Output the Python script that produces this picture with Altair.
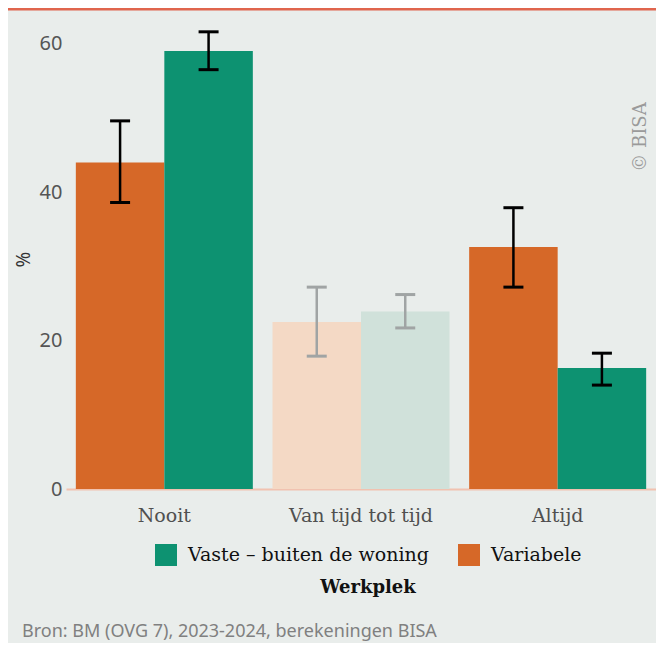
import altair as alt
import pandas as pd

categories = ["Nooit", "Van tijd tot tijd", "Altijd"]
series_names = ["Variabele", "Vaste – buiten de woning"]
variabele = [44.0, 22.5, 32.6]
variabele_lo = [38.6, 17.9, 27.2]
variabele_hi = [49.6, 27.2, 37.9]
vaste = [59.0, 23.9, 16.3]
vaste_lo = [56.5, 21.7, 14.0]
vaste_hi = [61.6, 26.2, 18.3]
faded_category = "Van tijd tot tijd"

ORANGE = "#d66828"
GREEN = "#0d9271"
ORANGE_FADED = "#f4d9c5"
GREEN_FADED = "#d0e1da"
BG = "#e9edeb"

rows = []
for i, c in enumerate(categories):
    for s, vals, lo, hi, col, fcol in [
        (series_names[0], variabele, variabele_lo, variabele_hi, ORANGE, ORANGE_FADED),
        (series_names[1], vaste, vaste_lo, vaste_hi, GREEN, GREEN_FADED),
    ]:
        faded = c == faded_category
        rows.append({
            "cat": c, "series": s, "value": vals[i], "lo": lo[i], "hi": hi[i],
            "fill": fcol if faded else col,
            "errcol": "#a0a4a4" if faded else "#000000",
        })
df = pd.DataFrame(rows)

W, H = 590, 475
SERIF = "DejaVu Serif"
SANS = "Noto Sans"

xenc = alt.X("cat:N", sort=categories,
             scale=alt.Scale(paddingInner=0.1, paddingOuter=0.05),
             axis=alt.Axis(title=None, labelAngle=0, ticks=False, domainColor="#f1c2b0",
                           domainWidth=2, labelFont=SERIF, labelFontSize=19,
                           labelColor="#505050", labelPadding=17))
xoff = alt.XOffset("series:N", scale=alt.Scale(domain=series_names, paddingInner=0))
yscale = alt.Scale(domain=[0, 64], nice=False)
yaxis = alt.Axis(values=[0, 20, 40, 60], grid=False, domain=False, ticks=False,
                 labelFont=SANS, labelFontSize=20, labelColor="#555555", labelPadding=4,
                 title="%", titleFont=SANS, titleFontSize=19, titleFontWeight="normal",
                 titleColor="#333333", titleX=-43, titleY=245, titleAngle=270,
                 titleAlign="center", titleBaseline="middle")

bars = alt.Chart(df[df["cat"] != faded_category]).mark_bar(opacity=1).encode(
    x=xenc, xOffset=xoff,
    y=alt.Y("value:Q", scale=yscale, axis=yaxis),
    color=alt.Color("series:N",
                    scale=alt.Scale(domain=["Vaste – buiten de woning", "Variabele"],
                                    range=[GREEN, ORANGE]),
                    legend=alt.Legend(orient="none", legendX=89, legendY=530,
                                      direction="horizontal", title="Werkplek",
                                      titleOrient="bottom", titleAnchor="middle",
                                      titleFont=SERIF, titleFontSize=18, titleFontWeight="bold",
                                      titleColor="#111111", titlePadding=13,
                                      labelFont=SERIF, labelFontSize=19, labelColor="#111111",
                                      labelLimit=400, labelOffset=11, symbolType="square",
                                      symbolSize=484, symbolStrokeWidth=0, symbolOpacity=1,
                                      columnPadding=28, padding=0)),
)

faded_bars = alt.Chart(df[df["cat"] == faded_category]).mark_bar(opacity=1).encode(
    x=alt.X("cat:N", sort=categories), xOffset=xoff,
    y=alt.Y("value:Q", scale=yscale),
    color=alt.Color("fill:N", scale=None),
)

base = alt.Chart(df)
err_rule = base.mark_rule(strokeWidth=2.5, opacity=1).encode(
    x=alt.X("cat:N", sort=categories), xOffset=xoff,
    y=alt.Y("lo:Q", scale=yscale), y2="hi:Q",
    color=alt.Color("errcol:N", scale=None),
)
err_lo = base.mark_tick(size=20, thickness=3, opacity=1).encode(
    x=alt.X("cat:N", sort=categories), xOffset=xoff,
    y=alt.Y("lo:Q", scale=yscale),
    color=alt.Color("errcol:N", scale=None),
)
err_hi = base.mark_tick(size=20, thickness=3, opacity=1).encode(
    x=alt.X("cat:N", sort=categories), xOffset=xoff,
    y=alt.Y("hi:Q", scale=yscale),
    color=alt.Color("errcol:N", scale=None),
)

top_line = alt.Chart(pd.DataFrame({"a": [0]})).mark_rule(color="#e0654e", strokeWidth=3).encode(
    x=alt.value(-62), x2=alt.value(W + 2), y=alt.value(-5)
)

source = alt.Chart(pd.DataFrame({"t": ["Bron: BM (OVG 7), 2023-2024, berekeningen BISA"]})).mark_text(
    align="left", baseline="alphabetic", font=SANS, fontSize=18, color="#808080"
).encode(x=alt.value(-44), y=alt.value(623), text="t:N")

copyright_txt = alt.Chart(pd.DataFrame({"t": ["© BISA"]})).mark_text(
    align="center", baseline="middle", angle=270, font=SERIF, fontSize=18,
    color="#9a9a9a"
).encode(x=alt.value(575), y=alt.value(123), text="t:N")

chart = alt.layer(top_line, bars, faded_bars, err_rule, err_lo, err_hi, source, copyright_txt).properties(
    width=W, height=H, background=BG,
    autosize=alt.AutoSizeParams(type="none"),
    padding={"left": 58, "top": 6, "right": 0, "bottom": 154},
).configure_view(stroke=None)

chart.save("out.html", embed_options={"renderer": "svg", "actions": False})
